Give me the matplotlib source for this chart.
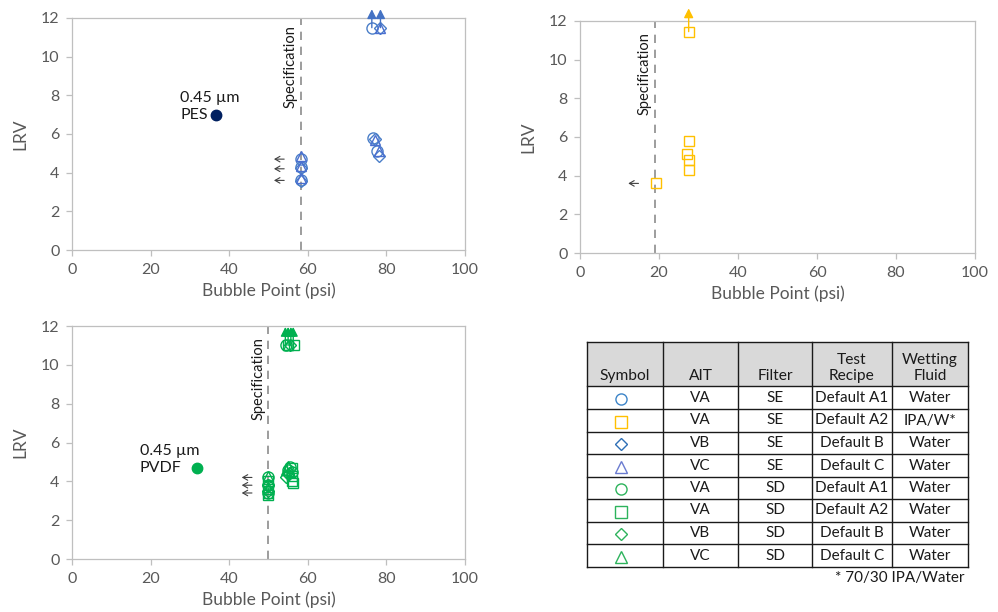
import matplotlib
matplotlib.use('Agg')
import matplotlib.pyplot as plt

plt.rcParams['font.family'] = ['Lato', 'DejaVu Sans']

# --- SE filter, blue markers (top left) ---
se_circ_x = [58.2, 58.2, 58.2, 76.5, 77.5, 76.3]
se_circ_y = [3.6, 4.3, 4.7, 5.8, 5.1, 11.5]
se_diam_x = [58.2, 58.2, 77.0, 78.0, 78.5]
se_diam_y = [3.55, 4.25, 5.75, 4.85, 11.5]
se_tri_x = [58.2, 58.2, 58.2, 77.2, 78.0, 78.3]
se_tri_y = [3.7, 4.35, 4.85, 5.7, 5.1, 11.5]
se_up_x = [76.3, 78.5]
se_up_y = [11.5, 11.5]
se_low_y = [3.6, 4.2, 4.7]
pes_x, pes_y = 36.7, 7.0
se_spec = 58.2

# --- SE filter, Default A2 with IPA/W (top right) ---
a2_sq_x = [27.5, 27.5, 27.2, 27.5, 27.5, 19.2]
a2_sq_y = [11.45, 5.8, 5.1, 4.8, 4.3, 3.6]
a2_up_x = [27.5]
a2_up_y = [11.45]
a2_low_y = [3.6]
a2_spec = 19.0

# --- SD filter, green markers (bottom left) ---
sd_circ_x = [50.0, 50.0, 50.0, 55.0, 55.5, 56.0, 54.5]
sd_circ_y = [4.2, 3.8, 3.4, 4.6, 4.75, 4.5, 11.0]
sd_sq_x = [50.0, 50.0, 50.0, 56.0, 56.0, 56.0, 56.3, 55.0, 56.5]
sd_sq_y = [4.0, 3.6, 3.3, 4.7, 4.3, 4.0, 3.9, 11.0, 11.0]
sd_diam_x = [50.0, 50.0, 54.5, 55.0, 55.5]
sd_diam_y = [3.8, 3.5, 4.2, 4.4, 11.0]
sd_tri_x = [50.0, 50.0, 50.0, 54.5, 55.0, 55.5, 55.0]
sd_tri_y = [4.3, 3.7, 3.4, 4.6, 4.8, 4.5, 11.0]
sd_up_x = [54.3, 55.0, 55.7, 56.3]
sd_up_y = [11.0, 11.0, 11.0, 11.0]
sd_low_y = [4.2, 3.8, 3.4]
pvdf_x, pvdf_y = 31.8, 4.7
sd_spec = 50.0

# --- legend table ---
tbl_header = ['Symbol', 'AIT', 'Filter', 'Test\nRecipe', 'Wetting\nFluid']
tbl_marker = ['o', 's', 'D', '^', 'o', 's', 'D', '^']
tbl_color = ['#3C84C8', '#FFC000', '#2E6FB6', '#6A7BD0',
             '#2DB35C', '#2DB35C', '#2DB35C', '#2DB35C']
tbl_ait = ['VA', 'VA', 'VB', 'VC', 'VA', 'VA', 'VB', 'VC']
tbl_filter = ['SE', 'SE', 'SE', 'SE', 'SD', 'SD', 'SD', 'SD']
tbl_recipe = ['Default A1', 'Default A2', 'Default B', 'Default C',
              'Default A1', 'Default A2', 'Default B', 'Default C']
tbl_fluid = ['Water', 'IPA/W*', 'Water', 'Water', 'Water', 'Water', 'Water', 'Water']

BLUE = '#4A7EC8'
TRI_BLUE = '#4A6FD0'
YEL = '#FFC000'
GRN = '#00B050'
GRAY_TXT = '#595959'
AX_GRAY = '#BFBFBF'


def style_axes(ax):
    ax.set_xlim(0, 100)
    ax.set_ylim(0, 12)
    ax.set_xticks(range(0, 101, 20))
    ax.set_yticks(range(0, 13, 2))
    for s in ax.spines.values():
        s.set_color(AX_GRAY)
        s.set_linewidth(0.9)
    ax.tick_params(direction='out', length=4, width=0.9, color=AX_GRAY,
                   labelcolor=GRAY_TXT, labelsize=11.5, pad=5)
    ax.set_xlabel('Bubble Point (psi)', fontsize=12.5, color=GRAY_TXT, labelpad=4)
    ax.set_ylabel('LRV', fontsize=12.5, color=GRAY_TXT, labelpad=9)


def open_pts(ax, x, y, marker, color, ms=8):
    ax.plot(x, y, linestyle='none', marker=marker, ms=ms, mfc='none',
            mec=color, mew=1.0, clip_on=False, zorder=4)


def up_arrows(ax, x, y, top, color):
    for xi, yi in zip(x, y):
        ax.annotate('', xy=(xi, top), xytext=(xi, yi), annotation_clip=False,
                    arrowprops=dict(arrowstyle='-|>,head_width=0.28,head_length=0.55',
                                    color=color, lw=1.0, shrinkA=0, shrinkB=0),
                    zorder=5)


def left_arrows(ax, xs, ys):
    for yi in ys:
        ax.annotate('', xy=(xs - 6.8, yi), xytext=(xs - 4.2, yi),
                    arrowprops=dict(arrowstyle='->,head_width=0.2,head_length=0.35',
                                    color='#404040', lw=0.8, shrinkA=0, shrinkB=0))


def spec_line(ax, xs, ytext):
    ax.axvline(xs, color='#8C8C8C', lw=1.2, dashes=(5, 4), zorder=1)
    ax.text(xs - 2.6, ytext, 'Specification', rotation=90, ha='center', va='center',
            fontsize=10.5, color='#1A1A1A')


fig = plt.figure(figsize=(9.98, 6.12), dpi=100)

ax1 = fig.add_axes([0.0721, 0.5915, 0.3938, 0.3791])
style_axes(ax1)
spec_line(ax1, se_spec, 9.5)
open_pts(ax1, se_circ_x, se_circ_y, 'o', BLUE)
open_pts(ax1, se_diam_x, se_diam_y, 'D', BLUE, ms=6.5)
open_pts(ax1, se_tri_x, se_tri_y, '^', TRI_BLUE, ms=7.5)
up_arrows(ax1, se_up_x, se_up_y, 12.45, '#4472C4')
left_arrows(ax1, se_spec, se_low_y)
ax1.plot([pes_x], [pes_y], 'o', ms=7.5, color='#002060', zorder=4)
ax1.text(27.5, 7.85, '0.45 µm', fontsize=11.5, ha='left', va='center', color='#1A1A1A')
ax1.text(27.7, 7.0, 'PES', fontsize=11.5, ha='left', va='center', color='#1A1A1A')

ax2 = fig.add_axes([0.5812, 0.5866, 0.3958, 0.3791])
style_axes(ax2)
spec_line(ax2, a2_spec, 9.3)
open_pts(ax2, a2_sq_x, a2_sq_y, 's', YEL, ms=7.5)
up_arrows(ax2, a2_up_x, a2_up_y, 12.65, YEL)
left_arrows(ax2, a2_spec, a2_low_y)

ax3 = fig.add_axes([0.0721, 0.0866, 0.3938, 0.3807])
style_axes(ax3)
spec_line(ax3, sd_spec, 9.3)
open_pts(ax3, sd_circ_x, sd_circ_y, 'o', GRN)
open_pts(ax3, sd_sq_x, sd_sq_y, 's', GRN, ms=7.5)
open_pts(ax3, sd_diam_x, sd_diam_y, 'D', GRN, ms=6.5)
open_pts(ax3, sd_tri_x, sd_tri_y, '^', GRN, ms=7.5)
up_arrows(ax3, sd_up_x, sd_up_y, 11.95, GRN)
left_arrows(ax3, sd_spec, sd_low_y)
ax3.plot([pvdf_x], [pvdf_y], 'o', ms=7.5, color=GRN, zorder=4)
ax3.text(17.3, 5.55, '0.45 µm', fontsize=11.5, ha='left', va='center', color='#1A1A1A')
ax3.text(17.3, 4.7, 'PVDF', fontsize=11.5, ha='left', va='center', color='#1A1A1A')

# legend table drawn in pixel coordinates
axt = fig.add_axes([0, 0, 1, 1])
axt.set_xlim(0, 998)
axt.set_ylim(612, 0)
axt.axis('off')
axt.patch.set_alpha(0)

col_x = [587, 663, 738, 812, 892, 968]
row_y = [342, 386, 409, 432, 454, 477, 499, 522, 544, 567]
axt.fill_between([col_x[0], col_x[-1]], row_y[0], row_y[1], color='#D9D9D9', lw=0)
for yy in row_y:
    axt.plot([col_x[0], col_x[-1]], [yy, yy], color='#1A1A1A', lw=1.0)
for xx in col_x:
    axt.plot([xx, xx], [row_y[0], row_y[-1]], color='#1A1A1A', lw=1.0)

for j, h in enumerate(tbl_header):
    cx = (col_x[j] + col_x[j + 1]) / 2
    axt.text(cx, row_y[1] - 3, h, ha='center', va='bottom', fontsize=11.2,
             color='#1A1A1A', linespacing=1.2)

cols = [tbl_ait, tbl_filter, tbl_recipe, tbl_fluid]
for i in range(len(tbl_ait)):
    cy = (row_y[i + 1] + row_y[i + 2]) / 2
    ms = 6.5 if tbl_marker[i] == 'D' else 8
    axt.plot([(col_x[0] + col_x[1]) / 2 - 4], [cy + 1], linestyle='none',
             marker=tbl_marker[i], ms=ms, mfc='none', mec=tbl_color[i], mew=1.0)
    for j, col in enumerate(cols):
        cx = (col_x[j + 1] + col_x[j + 2]) / 2
        axt.text(cx, cy, col[i], ha='center', va='center', fontsize=11,
                 color='#1A1A1A')

axt.text(965, 578, '* 70/30 IPA/Water', ha='right', va='center', fontsize=11,
         color='#1A1A1A')

fig.savefig('out.png', dpi=100)
